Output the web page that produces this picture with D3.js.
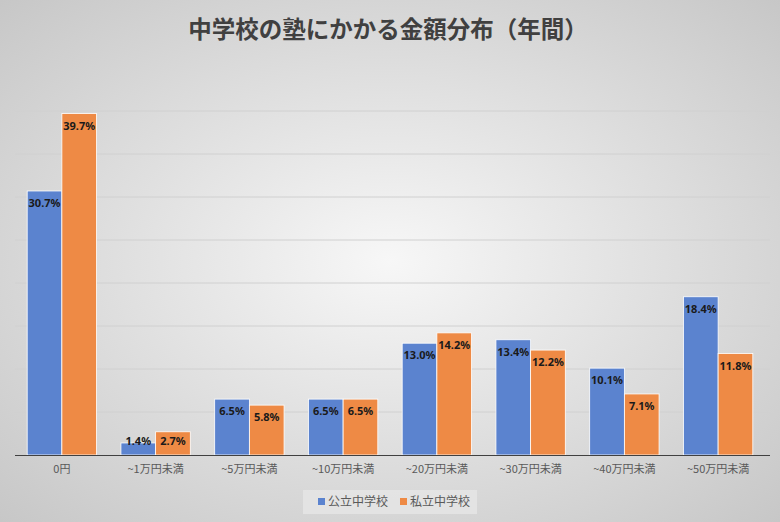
<!DOCTYPE html>
<html><head><meta charset="utf-8">
<script src="https://cdn.jsdelivr.net/npm/d3@7"></script>
<style>body{margin:0;}svg{display:block;font-family:"Noto Sans CJK JP",sans-serif;}</style>
</head><body>
<svg width="780" height="522"></svg>
<script>
var categories = ['0円', '~1万円未満', '~5万円未満', '~10万円未満', '~20万円未満', '~30万円未満', '~40万円未満', '~50万円未満'];
var publicVals = [30.7, 1.4, 6.5, 6.5, 13.0, 13.4, 10.1, 18.4];
var privateVals = [39.7, 2.7, 5.8, 6.5, 14.2, 12.2, 7.1, 11.8];
var seriesNames = ['公立中学校', '私立中学校'];
var colors = ['#5b83cf', '#ee8a45'];
var yTicks = [0, 5, 10, 15, 20, 25, 30, 35, 40];

var svg = d3.select('svg');
var defs = svg.append('defs');
var grad = defs.append('radialGradient').attr('id', 'bg').attr('cx', '50%').attr('cy', '50%').attr('r', '75%');
grad.append('stop').attr('offset', '0%').attr('stop-color', '#f7f7f7');
grad.append('stop').attr('offset', '100%').attr('stop-color', '#c4c4c4');
svg.append('rect').attr('width', 780).attr('height', 522).attr('fill', 'url(#bg)');

svg.append('text').attr('x', 388).attr('y', 38).attr('text-anchor', 'middle')
  .attr('font-size', 23.5).attr('font-weight', 'bold').attr('fill', '#404040')
  .text('中学校の塾にかかる金額分布（年間）');

var x0 = d3.scaleBand().domain(categories).range([15, 765]).paddingInner(0.26).paddingOuter(0.13);
var x1 = d3.scaleBand().domain([0, 1]).range([0, x0.bandwidth()]);
var y = d3.scaleLinear().domain([0, 40]).range([455, 111]);

svg.append('g').selectAll('line').data(yTicks.slice(1)).join('line')
  .attr('x1', 15).attr('x2', 770).attr('y1', y).attr('y2', y)
  .attr('stroke', '#d0d0d0').attr('stroke-width', 1);

var data = categories.map(function(c, i) { return [publicVals[i], privateVals[i]]; });
var groups = svg.append('g').selectAll('g').data(data).join('g')
  .attr('transform', function(d, i) { return 'translate(' + x0(categories[i]) + ',0)'; });

groups.selectAll('rect').data(function(d) { return d; }).join('rect')
  .attr('x', function(d, j) { return x1(j); })
  .attr('width', x1.bandwidth())
  .attr('y', function(d) { return y(d); })
  .attr('height', function(d) { return y(0) - y(d); })
  .attr('fill', function(d, j) { return colors[j]; })
  .attr('stroke', '#ffffff').attr('stroke-width', 0.8);

groups.selectAll('text').data(function(d) { return d; }).join('text')
  .attr('x', function(d, j) { return x1(j) + x1.bandwidth() / 2; })
  .attr('y', function(d) { return Math.min(y(d) + 16, 445); })
  .attr('text-anchor', 'middle').attr('font-size', 11).attr('font-weight', 'bold')
  .attr('fill', '#1a1a1a').attr('font-family', 'Noto Sans')
  .text(function(d) { return d.toFixed(1) + '%'; });

svg.append('line').attr('x1', 15).attr('x2', 770).attr('y1', 455.5).attr('y2', 455.5)
  .attr('stroke', '#404040').attr('stroke-width', 1);

var xAxis = svg.append('g').attr('transform', 'translate(0,455)')
  .call(d3.axisBottom(x0).tickSize(0).tickPadding(10));
xAxis.select('.domain').remove();
xAxis.selectAll('text').attr('font-size', 11).attr('fill', '#595959')
  .attr('font-family', '"Noto Sans CJK JP",sans-serif');

var legend = svg.append('g');
legend.append('rect').attr('x', 303).attr('y', 490).attr('width', 174).attr('height', 24)
  .attr('fill', '#e6e6e6').attr('opacity', 0.8);
var lx = [318, 400];
seriesNames.forEach(function(n, i) {
  legend.append('rect').attr('x', lx[i]).attr('y', 498).attr('width', 7).attr('height', 7).attr('fill', colors[i]);
  legend.append('text').attr('x', lx[i] + 10).attr('y', 506).attr('font-size', 12)
    .attr('fill', '#595959').text(n);
});
</script>
</body></html>
